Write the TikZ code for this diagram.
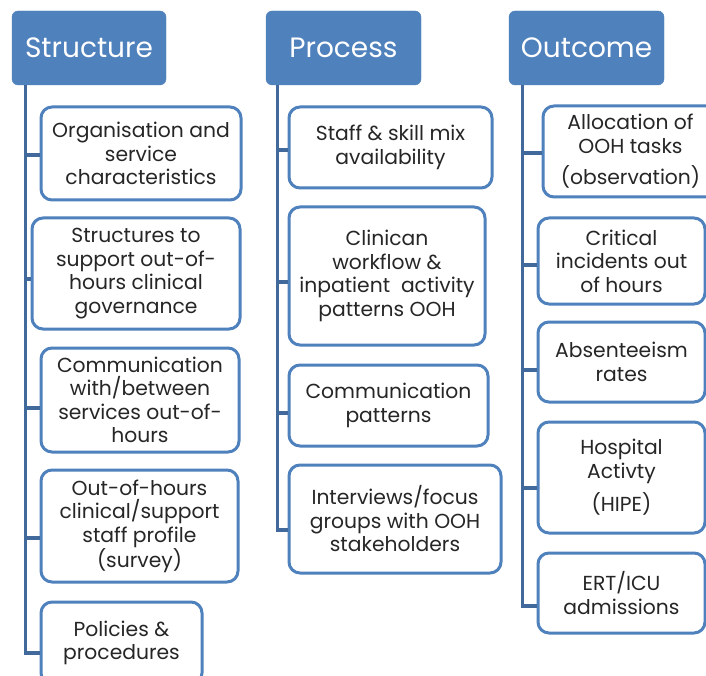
\documentclass[tikz,border=0pt]{standalone}
\usepackage{fontspec}
\setmainfont{Poppins}
\usepackage{tikz}
\usetikzlibrary{calc,positioning}
\definecolor{hdblue}{HTML}{4F81BD}
\definecolor{trunkblue}{HTML}{41699B}
\definecolor{txtgrey}{HTML}{262626}
\tikzset{
	head/.style={fill=hdblue, draw=hdblue, rounded corners=6pt, text=white,
		font=\fontsize{28}{32}\selectfont, inner sep=0pt, minimum height=74pt},
	item/.style={draw=hdblue, line width=3pt, fill=white, rounded corners=11pt, text=txtgrey,
		align=center, inner sep=0pt, font=\fontsize{20.3}{23.5}\selectfont},
	trunk/.style={draw=trunkblue, line width=3.2pt},
}

\begin{document}
\begin{tikzpicture}[x=1pt, y=-1pt]
		%%%%% START %%%%%
		\useasboundingbox (0, 0) rectangle (706, 676);
		\clip (0, 0) rectangle (706, 676);
		\fill[white] (0, 0) rectangle (706, 676);
		
		% column heads
		\node[head, minimum width=154pt] (hstruct) at (89, 48) {Structure};
		\node[head, minimum width=155pt] (hproc) at (343.5, 48) {Process};
		\node[head, minimum width=155pt] (hout) at (586.5, 48) {Outcome};
		
		\coordinate (tstruct) at ([xshift=14pt]hstruct.south west);
		\coordinate (tproc) at ([xshift=12pt]hproc.south west);
		\coordinate (tout) at ([xshift=14pt]hout.south west);
		
		% structure
		\node[item, minimum width=200pt, minimum height=93pt] (s1) at (141, 153.5) {Organisation and\\service\\characteristics};
		\node[item, minimum width=208pt, minimum height=111pt] (s2) at (136, 273.5) {Structures to\\support out-of-\\hours clinical\\governance};
		\node[item, minimum width=198pt, minimum height=104pt] (s3) at (140, 400) {Communication\\with/between\\services out-of-\\hours};
		\node[item, minimum width=197pt, minimum height=112pt] (s4) at (139.5, 526) {Out-of-hours\\clinical/support\\staff profile\\(survey)};
		\node[item, minimum width=161pt, minimum height=82pt] (s5) at (121.5, 643) {Policies \&\\procedures};
		
		\draw[trunk] (tstruct) -- ([yshift=-10pt]s5.west -| tstruct) -- ([yshift=-10pt]s5.west);
		\draw[trunk] ([yshift=-1.5pt]s1.west -| tstruct) -- ([yshift=-1.5pt]s1.west);
		\draw[trunk] ([yshift=-5.5pt]s2.west -| tstruct) -- ([yshift=-5.5pt]s2.west);
		\draw[trunk] ([yshift=-8pt]s3.west -| tstruct) -- ([yshift=-8pt]s3.west);
		\draw[trunk] ([yshift=-12pt]s4.west -| tstruct) -- ([yshift=-12pt]s4.west);
		
		% process
		\node[item, minimum width=203pt, minimum height=81pt] (p1) at (390.5, 147.5) {Staff \& skill mix\\availability};
		\node[item, minimum width=196pt, minimum height=138pt] (p2) at (387, 276) {Clinican\\workflow \&\\inpatient~ activity\\patterns OOH};
		\node[item, minimum width=199pt, minimum height=81pt] (p3) at (388.5, 405.5) {Communication\\patterns};
		\node[item, minimum width=212pt, minimum height=108pt] (p4) at (395, 519) {Interviews/focus\\groups with OOH\\stakeholders};
		
		\draw[trunk] (tproc) -- ([yshift=-11pt]p4.west -| tproc) -- ([yshift=-11pt]p4.west);
		\draw[trunk] ([yshift=-2.5pt]p1.west -| tproc) -- ([yshift=-2.5pt]p1.west);
		\draw[trunk] ([yshift=-6pt]p2.west -| tproc) -- ([yshift=-6pt]p2.west);
		\draw[trunk] ([yshift=-7.5pt]p3.west -| tproc) -- ([yshift=-7.5pt]p3.west);
		
		% outcome
		\node[item, minimum width=175pt, minimum height=91pt] (o1) at (630.5, 151.5) {Allocation of\\OOH tasks\\[8pt](observation)};
		\node[item, minimum width=167pt, minimum height=86pt] (o2) at (621.5, 261) {Critical\\incidents out\\of hours};
		\node[item, minimum width=167pt, minimum height=80pt] (o3) at (621.5, 362) {Absenteeism\\rates};
		\node[item, minimum width=167pt, minimum height=111pt] (o4) at (621.5, 477.5) {Hospital\\Activty\\[8pt](HIPE)};
		\node[item, minimum width=167pt, minimum height=80pt] (o5) at (621.5, 593) {ERT/ICU\\admissions};
		
		\draw[trunk] (tout) -- ([yshift=-13pt]o5.west -| tout) -- ([yshift=-13pt]o5.west);
		\draw[trunk] ([yshift=-1.5pt]o1.west -| tout) -- ([yshift=-1.5pt]o1.west);
		\draw[trunk] ([yshift=-4pt]o2.west -| tout) -- ([yshift=-4pt]o2.west);
		\draw[trunk] ([yshift=-8pt]o3.west -| tout) -- ([yshift=-8pt]o3.west);
		\draw[trunk] ([yshift=-10.5pt]o4.west -| tout) -- ([yshift=-10.5pt]o4.west);
		
		%%%%% END %%%%%
	\end{tikzpicture}
\end{document}
